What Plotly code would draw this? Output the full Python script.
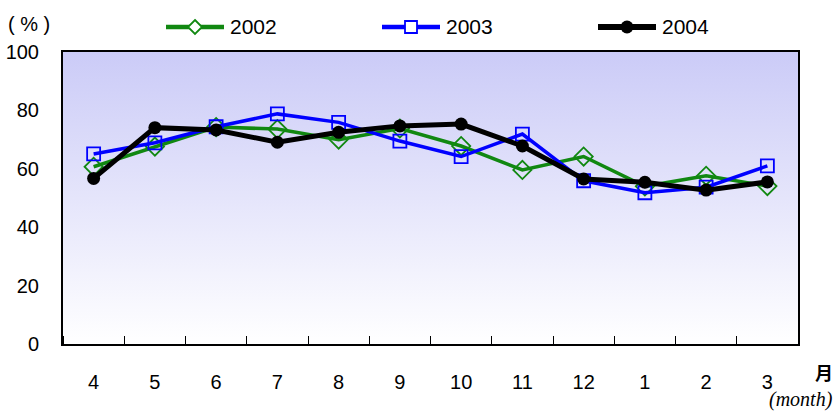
import plotly.graph_objects as go

# Monthly rate (%) for the fiscal year April..March
months = ["4", "5", "6", "7", "8", "9", "10", "11", "12", "1", "2", "3"]
rate_2002 = [60.7, 67.6, 74.3, 73.6, 70.0, 73.8, 67.8, 59.6, 64.2, 54.0, 57.6, 54.1]
rate_2003 = [65.1, 68.9, 74.4, 78.8, 75.9, 69.5, 64.2, 71.9, 55.9, 51.8, 53.7, 61.0]
rate_2004 = [56.7, 74.1, 73.3, 69.1, 72.5, 74.7, 75.3, 67.8, 56.5, 55.4, 52.7, 55.5]

years = ["2002", "2003", "2004"]
y_ticks = [0, 20, 40, 60, 80, 100]

W, H = 836, 412
ML, MR, MT, MB = 63, 38, 52, 68
PW, PH = W - ML - MR, H - MT - MB

def px(x):
    return (x - ML) / PW

def py(y):
    return (H - MB - y) / PH

xpos = list(range(len(months)))
xlo, xhi = -0.5, len(months) - 0.5
ylo, yhi = y_ticks[0], y_ticks[-1]

styles = {
    "2002": dict(color="#118811", width=3.5, symbol="diamond-open", size=14, mlw=1.8),
    "2003": dict(color="#0000ff", width=3.5, symbol="square-open", size=13, mlw=1.8),
    "2004": dict(color="#000000", width=5, symbol="circle", size=13, mlw=0),
}

fig = go.Figure()

# gradient panel behind the series
fig.add_trace(go.Scatter(
    x=[xlo, xhi, xhi, xlo, xlo], y=[ylo, ylo, yhi, yhi, ylo],
    mode="lines", line=dict(width=0), fill="toself",
    fillgradient=dict(type="vertical", start=ylo, stop=yhi,
                      colorscale=[[0, "#ffffff"], [1, "#cbcbf7"]]),
    hoverinfo="skip", showlegend=False,
))

for name, vals in zip(years, [rate_2002, rate_2003, rate_2004]):
    s = styles[name]
    fig.add_trace(go.Scatter(
        x=xpos, y=vals, name=name, mode="lines+markers",
        line=dict(color=s["color"], width=s["width"]),
        marker=dict(symbol=s["symbol"], size=s["size"], color=s["color"],
                    line=dict(color=s["color"], width=s["mlw"])),
        showlegend=False,
    ))

# legend drawn across the top margin
shapes = []
annotations = []
legend_x0 = [166, 382, 598]
ly = 27
for name, x0 in zip(years, legend_x0):
    s = styles[name]
    x1 = x0 + 58
    cx = (x0 + x1) / 2
    shapes.append(dict(type="line", xref="paper", yref="paper",
                       x0=px(x0), x1=px(x1), y0=py(ly), y1=py(ly),
                       line=dict(color=s["color"], width=s["width"] + 1)))
    if name == "2002":
        r = 7
        path = (f"M{px(cx)},{py(ly - r)} L{px(cx + r)},{py(ly)} "
                f"L{px(cx)},{py(ly + r)} L{px(cx - r)},{py(ly)} Z")
        shapes.append(dict(type="path", xref="paper", yref="paper", path=path,
                           fillcolor="white", line=dict(color=s["color"], width=1.8)))
    elif name == "2003":
        r = 6
        shapes.append(dict(type="rect", xref="paper", yref="paper",
                           x0=px(cx - r), x1=px(cx + r), y0=py(ly - r), y1=py(ly + r),
                           fillcolor="white", line=dict(color=s["color"], width=1.8)))
    else:
        r = 6.5
        shapes.append(dict(type="circle", xref="paper", yref="paper",
                           x0=px(cx - r), x1=px(cx + r), y0=py(ly - r), y1=py(ly + r),
                           fillcolor="black", line=dict(color="black", width=0)))
    annotations.append(dict(text=name, xref="paper", yref="paper",
                            x=px(x1 + 4), y=py(ly), xanchor="left", yanchor="middle",
                            showarrow=False,
                            font=dict(family="Liberation Sans", size=21, color="black")))

annotations += [
    dict(text="( % )", xref="paper", yref="paper", x=px(6), y=py(24),
         xanchor="left", yanchor="middle", showarrow=False,
         font=dict(family="Liberation Sans", size=20, color="black")),
    dict(text="<b>月</b>", xref="paper", yref="paper", x=px(824), y=py(372),
         xanchor="center", yanchor="middle", showarrow=False,
         font=dict(family="Noto Sans CJK JP", size=18, color="black")),
    dict(text="<i>(month)</i>", xref="paper", yref="paper", x=px(835), y=py(400),
         xanchor="right", yanchor="middle", showarrow=False,
         font=dict(family="Liberation Serif", size=20, color="black")),
]

fig.update_layout(
    width=W, height=H,
    margin=dict(l=ML, r=MR, t=MT, b=MB, pad=0),
    paper_bgcolor="white", plot_bgcolor="white",
    showlegend=False,
    shapes=shapes, annotations=annotations,
)

fig.update_xaxes(
    range=[xlo, xhi], tickmode="array", tickvals=xpos, ticktext=months,
    ticks="", showgrid=False, zeroline=False, automargin=False,
    showline=True, linecolor="black", linewidth=2, mirror=True,
    ticklabelstandoff=19,
    tickfont=dict(family="Liberation Sans", size=20, color="black"),
    minor=dict(tickmode="linear", tick0=0.5, dtick=1, ticks="inside",
               ticklen=8, tickwidth=1, tickcolor="black", showgrid=False),
)
fig.update_yaxes(
    range=[ylo, yhi], tickmode="array", tickvals=y_ticks,
    ticks="", showgrid=True, gridcolor="black", gridwidth=1, zeroline=False,
    automargin=False,
    showline=True, linecolor="black", linewidth=2, mirror=True,
    ticklabelstandoff=18,
    tickfont=dict(family="Liberation Sans", size=20, color="black"),
)

fig.write_html("out.html")
